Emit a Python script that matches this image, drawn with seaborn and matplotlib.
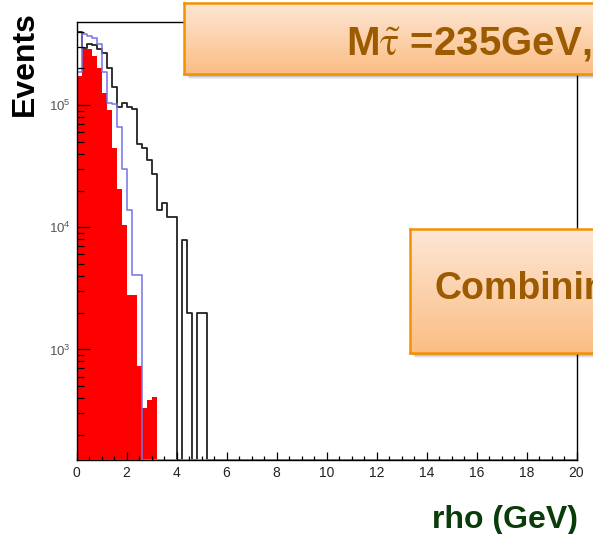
import numpy as np
import pandas as pd
import matplotlib
matplotlib.use("Agg")
import matplotlib.pyplot as plt
from matplotlib.patches import Rectangle
from matplotlib.colors import LinearSegmentedColormap
from matplotlib.ticker import MultipleLocator, FixedLocator, NullFormatter
import seaborn as sns

# ---------------- data ----------------
x_min, x_max, n_bins = 0.0, 20.0, 100   # 0.2 GeV bins
y_min, y_max = 124.5, 4.83e5

red_counts = [1.72e5, 2.90e5, 2.90e5, 2.55e5, 2.00e5, 1.27e5, 9.1e4, 4.5e4,
              2.07e4, 1.04e4, 2.8e3, 2.8e3, 730, 331, 385, 410]
blue_counts = [1.86e5, 3.85e5, 3.72e5, 3.58e5, 3.19e5, 1.86e5, 1.05e5, 1.03e5,
               6.6e4, 3.0e4, 1.4e4, 4.05e3, 4.05e3]
black_counts = [3.95e5, 2.96e5, 3.20e5, 3.10e5, 2.91e5, 2.70e5, 2.00e5, 1.42e5,
                9.6e4, 1.04e5, 9.75e4, 9.35e4, 4.83e4, 4.49e4, 3.53e4, 2.75e4,
                1.38e4, 1.58e4, 1.21e4, 1.21e4, 0, 7.9e3, 1.99e3, 0, 1.99e3, 1.99e3]

x_ticks = [0, 2, 4, 6, 8, 10, 12, 14, 16, 18, 20]
x_tick_labels = ["0", "2", "4", "6", "8", "10", "12", "14", "16", "18", "20"]
y_ticks = [1e3, 1e4, 1e5]
y_tick_labels = [r"$\mathdefault{10^{3}}$", r"$\mathdefault{10^{4}}$", r"$\mathdefault{10^{5}}$"]

x_label = "rho (GeV)"
y_label = "Events"
box1_text = r"M$\mathrm{\tilde{\tau}}$ =235GeV,"
box2_text = "Combining"

# ---------------- build table ----------------
edges = np.linspace(x_min, x_max, n_bins + 1)
centers = 0.5 * (edges[:-1] + edges[1:])

def pad(v):
    out = np.zeros(n_bins)
    out[:len(v)] = v
    return out

df = pd.DataFrame({
    "rho": np.concatenate([centers] * 3),
    "events": np.concatenate([pad(red_counts), pad(blue_counts), pad(black_counts)]),
    "sample": ["red"] * n_bins + ["blue"] * n_bins + ["black"] * n_bins,
})
# outline histograms are drawn like ROOT: empty bins run along the frame bottom
df["drawn"] = np.where(df["sample"] == "red", df["events"],
                       np.maximum(df["events"], y_min))

# ---------------- figure ----------------
W, H = 593, 534
plt.rcParams["font.family"] = ["Liberation Sans", "DejaVu Sans"]
plt.rcParams["mathtext.fontset"] = "stix"
fig = plt.figure(figsize=(W / 100, H / 100), dpi=100)
fig.patch.set_facecolor("white")

ax = fig.add_axes([76.5 / W, 1 - 460 / H, 500 / W, (460 - 21.7) / H])
ax.set_zorder(0)

hist_kws = dict(x="rho", weights="drawn", bins=n_bins, binrange=(x_min, x_max),
                element="step", ax=ax)
sns.histplot(data=df[df["sample"] == "red"], fill=True, color="#ff0000", alpha=1.0,
             linewidth=0, **hist_kws)
sns.histplot(data=df[df["sample"] == "black"], fill=False, color="#222222",
             linewidth=1.3, **hist_kws)
sns.histplot(data=df[df["sample"] == "blue"], fill=False, color="#7373e6",
             linewidth=1.1, **hist_kws)

ax.set_yscale("log")
ax.set_xlim(x_min, x_max)
ax.set_ylim(y_min, y_max)
ax.set_xlabel("")
ax.set_ylabel("")
ax.set_axisbelow(False)

ax.set_xticks(x_ticks, labels=x_tick_labels, fontsize=10, color="#222222")
ax.xaxis.set_minor_locator(MultipleLocator(0.5))
minor_y = [m * 10 ** e for e in range(2, 6) for m in range(2, 10)]
ax.set_yticks(y_ticks, labels=y_tick_labels, fontsize=9.5, color="#555555")
ax.yaxis.set_minor_locator(FixedLocator(minor_y))
ax.yaxis.set_minor_formatter(NullFormatter())
ax.tick_params(axis="x", which="major", direction="in", length=6, width=0.9, pad=4,
               top=False, bottom=True)
ax.tick_params(axis="x", which="minor", direction="in", length=3, width=0.9, top=False)
ax.tick_params(axis="y", which="major", direction="in", length=9.5, width=0.9, pad=4,
               right=False, left=True)
ax.tick_params(axis="y", which="minor", direction="in", length=4.8, width=0.9, right=False)
for s in ax.spines.values():
    s.set_color("black")
    s.set_linewidth(1.0)
    s.set_visible(True)
ax.spines["bottom"].set_zorder(0.5)

fig.text(25 / W, 1 - 11 / H, y_label, rotation=90, ha="center", va="top",
         fontsize=23, fontweight="bold", color="black")
fig.text(578 / W, 1 - 528 / H, x_label, ha="right", va="baseline",
         fontsize=23, fontweight="bold", color="#0a3c0a")

# ---------------- orange boxes ----------------
grad_cmap = LinearSegmentedColormap.from_list("peach", ["#fbbd84", "#fde7d5"])
grad = np.linspace(0, 1, 256).reshape(-1, 1)

def orange_box(x0, y0, x1, y1):
    left, width = x0 / W, (x1 - x0) / W
    bottom, height = 1 - y1 / H, (y1 - y0) / H
    for k, a in [(5, 0.06), (4, 0.08), (3, 0.10), (2, 0.12)]:
        fig.patches.append(Rectangle((left + k / W, bottom - k / H), width, height,
                                     transform=fig.transFigure, facecolor="black",
                                     alpha=a, edgecolor="none", zorder=1))
    bx = fig.add_axes([left, bottom, width, height])
    bx.set_zorder(2)
    bx.imshow(grad, aspect="auto", cmap=grad_cmap, extent=[0, 1, 0, 1], origin="lower")
    bx.set_xticks([])
    bx.set_yticks([])
    for s in bx.spines.values():
        s.set_color("#f39200")
        s.set_linewidth(1.8)
    return bx

orange_box(184, 2.7, 640, 74)
orange_box(410, 229.3, 640, 352.7)

fig.text(346 / W, 1 - 55 / H, box1_text, ha="left", va="baseline",
         fontsize=29, fontweight="bold", color="#9c5b00", zorder=5)
fig.text(435 / W, 1 - 299 / H, box2_text, ha="left", va="baseline",
         fontsize=27, fontweight="bold", color="#9c5b00", zorder=5)

fig.savefig("out.png", dpi=100, facecolor="white")
